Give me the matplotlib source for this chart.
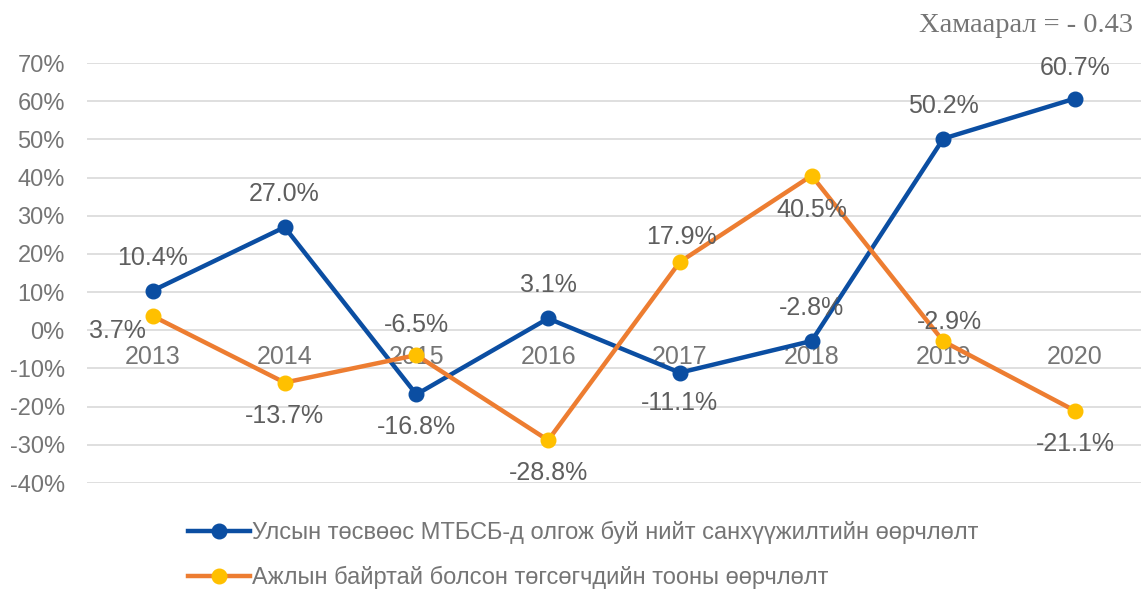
import numpy as np
import matplotlib.pyplot as plt

years = ["2013", "2014", "2015", "2016", "2017", "2018", "2019", "2020"]
funding = [10.4, 27.0, -16.8, 3.1, -11.1, -2.8, 50.2, 60.7]
employed = [3.7, -13.7, -6.5, -28.8, 17.9, 40.5, -2.9, -21.1]
funding_name = "Улсын төсвөөс МТБСБ-д олгож буй нийт санхүүжилтийн өөрчлөлт"
employed_name = "Ажлын байртай болсон төгсөгчдийн тооны өөрчлөлт"
corr_text = "Хамаарал = - 0.43"

# label offsets in pixels (dx, dy)
funding_off = [(0, 33), (0, 33), (0, -33), (0, 33), (0, -30), (0, 33), (0, 33), (0, 31)]
employed_off = [(-35, -15), (0, -33), (0, 30), (0, -33), (2, 25), (0, -34), (6, 19), (0, -33)]

plt.rcParams["font.family"] = ["Liberation Sans", "DejaVu Sans"]
grey = "#757575"
dark = "#5e5e5e"
blue = "#0b4ea2"
orange = "#ed7d31"
yellow = "#ffc000"

fig = plt.figure(figsize=(11.43, 5.9), dpi=100)
ax = fig.add_axes([87 / 1143, 1 - 483 / 590, (1141 - 87) / 1143, (483 - 63) / 590])
x = np.arange(len(years))

ax.plot(x, funding, color=blue, lw=3.2, marker="o", ms=10.5, mfc=blue, mec=blue,
        label=funding_name, zorder=3)
ax.plot(x, employed, color=orange, lw=3.2, marker="o", ms=10.5, mfc=yellow, mec=yellow,
        label=employed_name, zorder=4)

for i, v in enumerate(funding):
    ax.annotate(f"{v:.1f}%", (i, v), xytext=funding_off[i], textcoords="offset pixels",
                ha="center", va="center", fontsize=18, color=dark, zorder=5)
for i, v in enumerate(employed):
    ax.annotate(f"{v:.1f}%", (i, v), xytext=employed_off[i], textcoords="offset pixels",
                ha="center", va="center", fontsize=18, color=dark, zorder=5)
for i, yr in enumerate(years):
    ax.annotate(yr, (i, 0), xytext=(0, -27), textcoords="offset pixels",
                ha="center", va="center", fontsize=18, color=grey, zorder=2)

ax.set_xlim(-0.5, len(years) - 0.5)
ax.set_ylim(-40, 70)
ax.set_yticks(np.arange(-40, 71, 10))
ax.set_yticklabels([f"{t}%" for t in range(-40, 71, 10)], fontsize=17, color=grey)
ax.set_xticks([])
ax.tick_params(axis="y", length=0, pad=16)
ax.grid(axis="y", color="#d9d9d9", lw=1.2)
ax.set_axisbelow(True)
for s in ax.spines.values():
    s.set_visible(False)

fig.text(1133 / 1143, 1 - 25 / 590, corr_text, family="Liberation Serif",
         fontsize=20.5, color=grey, ha="right", va="center")

fig.legend(loc="upper left", bbox_to_anchor=(167 / 1143, 1 - 500 / 590), frameon=False,
           fontsize=17, handlelength=2.6, handletextpad=0.1, labelspacing=0.9,
           labelcolor=grey)

fig.savefig("out.png", dpi=100)
